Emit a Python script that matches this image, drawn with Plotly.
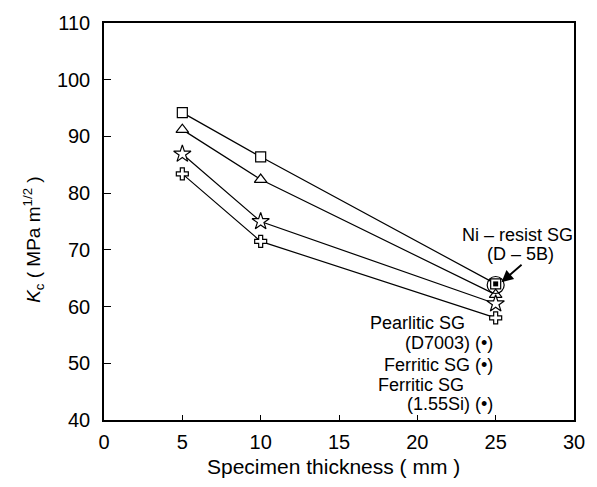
import plotly.graph_objects as go

thickness = [5, 10, 25]
kc_square = [94.2, 86.4, 64.0]
kc_triangle = [91.2, 82.4, 62.1]
kc_star = [86.9, 75.0, 60.5]
kc_cross = [83.4, 71.5, 58.0]

ni_resist_x = [25]
ni_resist_y = [63.8]

x_ticks = [0, 5, 10, 15, 20, 25, 30]
y_ticks = [40, 50, 60, 70, 80, 90, 100, 110]

FONT = "Liberation Sans, Arial, sans-serif"

fig = go.Figure()

series = [
    (kc_square, "square", 10),
    (kc_triangle, "triangle-up", 11),
    (kc_star, "star", 13),
    (kc_cross, "cross", 10),
]
for vals, sym, sz in series:
    fig.add_trace(go.Scatter(
        x=thickness, y=vals, mode="lines+markers",
        line=dict(color="black", width=1.2),
        marker=dict(symbol=sym, size=sz, color="white",
                    line=dict(color="black", width=1.2)),
        showlegend=False,
    ))

fig.add_trace(go.Scatter(
    x=ni_resist_x, y=ni_resist_y, mode="markers",
    marker=dict(symbol="circle-open", size=17, color="black", line=dict(width=1.2)),
    showlegend=False,
))
fig.add_trace(go.Scatter(
    x=ni_resist_x, y=[kc_square[-1]], mode="markers",
    marker=dict(symbol="square", size=5, color="black"),
    showlegend=False,
))

axis_common = dict(
    showline=True, linecolor="black", linewidth=1.5, mirror=True,
    ticks="inside", tickcolor="black", tickwidth=1.2,
    showgrid=False, zeroline=False,
    tickfont=dict(family=FONT, size=20, color="black"),
)

fig.update_xaxes(range=[0, 30], tickvals=x_ticks, ticklen=5, ticklabelstandoff=3, **axis_common)
fig.update_yaxes(range=[40, 110], tickvals=y_ticks, ticklen=7, ticklabelstandoff=8, **axis_common)

ann_font = dict(family=FONT, size=18, color="black")
annotations = [
    dict(x=30, y=72.7, text="Ni – resist SG", xanchor="right"),
    dict(x=26.57, y=69.2, text="(D – 5B)", xanchor="center"),
    dict(x=16.9, y=57.15, text="Pearlitic SG", xanchor="left"),
    dict(x=24.9, y=53.5, text="(D7003) (•)", xanchor="right"),
    dict(x=24.9, y=49.75, text="Ferritic SG (•)", xanchor="right"),
    dict(x=17.4, y=46.2, text="Ferritic SG", xanchor="left"),
    dict(x=24.9, y=42.8, text="(1.55Si) (•)", xanchor="right"),
]
for a in annotations:
    fig.add_annotation(xref="x", yref="y", showarrow=False, yanchor="middle",
                       borderpad=0, font=ann_font, **a)

# arrow to Ni-resist point
fig.add_annotation(x=25.37, y=64.3, ax=26.75, ay=67.6, xref="x", yref="y",
                   axref="x", ayref="y", text="", showarrow=True,
                   arrowhead=2, arrowsize=1.3, arrowwidth=1.8, arrowcolor="black")

# axis titles
fig.add_annotation(xref="paper", yref="paper", x=0.4886, y=-0.1175,
                   text="Specimen thickness ( mm )", showarrow=False,
                   xanchor="center", yanchor="middle",
                   font=dict(family=FONT, size=21, color="black"))
fig.add_annotation(xref="paper", yref="paper", x=-0.15, y=0.455,
                   text="<i>K</i><sub>c</sub> ( MPa m<sup>1/2</sup> )",
                   textangle=-90, showarrow=False,
                   xanchor="center", yanchor="middle",
                   font=dict(family=FONT, size=19, color="black"))

fig.update_layout(
    width=597, height=487,
    margin=dict(l=104, r=12, t=20, b=67),
    paper_bgcolor="white", plot_bgcolor="white",
)

fig.write_html("out.html")
